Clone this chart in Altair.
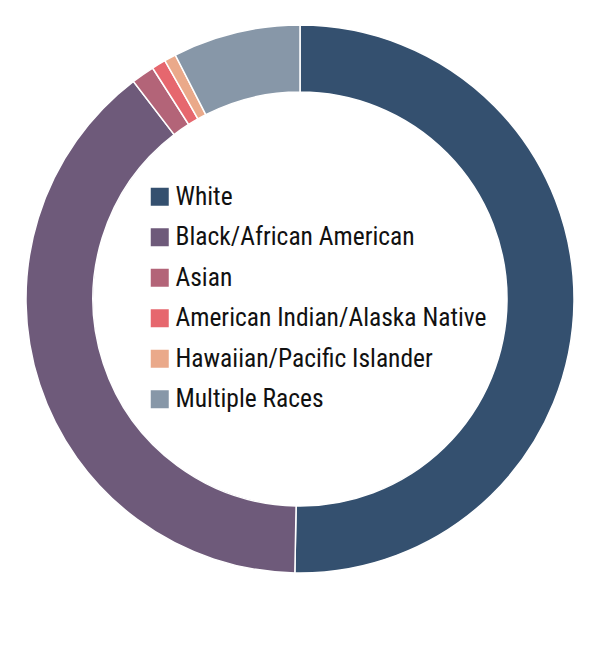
import altair as alt
import pandas as pd

categories = ["White", "Black/African American", "Asian",
              "American Indian/Alaska Native", "Hawaiian/Pacific Islander",
              "Multiple Races"]
shares = [50.3, 39.3, 1.36, 0.83, 0.69, 7.52]
colors = ["#34506f", "#6e5a7a", "#b36478", "#e6676e", "#eaa98a", "#8797a8"]

df = pd.DataFrame({"category": categories, "share": shares,
                   "order": list(range(len(categories)))})

chart = alt.Chart(df).mark_arc(
    innerRadius=207, outerRadius=274, stroke="white", strokeWidth=1.5,
    x=292, y=291
).encode(
    theta=alt.Theta("share:Q", stack=True),
    order=alt.Order("order:Q"),
    color=alt.Color(
        "category:N",
        scale=alt.Scale(domain=categories, range=colors),
        sort=categories,
        legend=alt.Legend(
            title=None, orient="none", legendX=139, legendY=176,
            symbolType="square", symbolSize=324, symbolStrokeWidth=0,
            labelFont="Roboto Condensed, Oswald, DejaVu Sans Condensed",
            labelFontSize=25.5,
            labelColor="#111111", labelOffset=3, rowPadding=13.5,
            labelLimit=400
        ),
    ),
).properties(
    width=584, height=600,
    autosize=alt.AutoSizeParams(type="none"), padding=0
).configure_view(stroke=None)

chart.save("out.html", embed_options={"renderer": "svg", "actions": False})
